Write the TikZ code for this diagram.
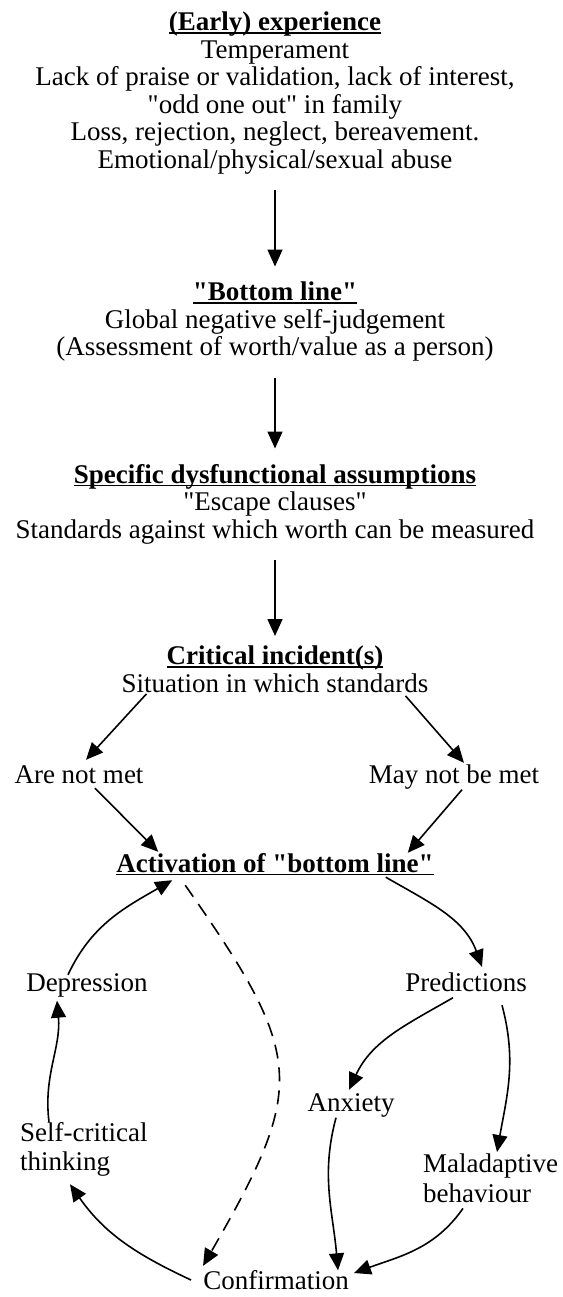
\documentclass[tikz,border=0pt]{standalone}
\usepackage{fontspec}
\setmainfont{Liberation Serif}[Ligatures=TeXOff]
\usetikzlibrary{arrows.meta,positioning}
\newsavebox{\headbox}
\newcommand{\headtxt}[1]{\sbox{\headbox}{\textbf{#1}}%
  \rlap{\rule[-2.6pt]{\wd\headbox}{1.3pt}}\usebox{\headbox}}

\begin{document}
\begin{tikzpicture}[x=1pt,y=1pt,
  txt/.style={inner sep=0pt,align=center,font=\fontsize{27}{27.5}\selectfont},
  one/.style={txt,text height=19pt,text depth=6pt},
  two/.style={txt,align=left,anchor=north west,font=\fontsize{27}{29.5}\selectfont},
  arr/.style={-{Triangle[length=17pt,width=15pt]},line width=1.6pt},
  down/.style={arr,shorten <=16pt,shorten >=15.5pt},
  back/.style={arr,dash pattern=on 14pt off 9pt}]
\useasboundingbox (0,0) rectangle (562,-1297);
%% ── Text blocks down the middle ─────────────────────────────────────────
\node[txt,anchor=north](early) at (275,-12)
  {\headtxt{(Early) experience}\\
   Temperament\\
   Lack of praise or validation, lack of interest,\\
   "odd one out" in family\\
   Loss, rejection, neglect, bereavement.\\
   Emotional/physical/sexual abuse};
\node[txt,anchor=north](bottom) at (275,-282)
  {\headtxt{"Bottom line"}\\
   Global negative self-judgement\\
   (Assessment of worth/value as a person)};
\node[txt,anchor=north](assume) at (275,-464)
  {\headtxt{Specific dysfunctional assumptions}\\
   "Escape clauses"\\
   Standards against which worth can be measured};
\node[txt,anchor=north](incident) at (275,-646)
  {\headtxt{Critical incident(s)}\\
   Situation in which standards};
%% ── Branch and cycle nodes ──────────────────────────────────────────────
\node[one](notmet) at (79,-777) {Are not met};
\node[one](maynot) at (454,-777) {May not be met};
\node[one](activ) at (275,-866) {\headtxt{Activation of "bottom line"}};
\node[one](depr) at (87,-985) {Depression};
\node[one](pred) at (466,-985) {Predictions};
\node[one](anx) at (351,-1105) {Anxiety};
\node[two](selfcrit) at (20,-1122) {Self-critical\\thinking};
\node[two](maladapt) at (423,-1154) {Maladaptive\\behaviour};
\node[one](confirm) at (276,-1283) {Confirmation};
%% ── Straight arrows ─────────────────────────────────────────────────────
\draw[down](early) -- (bottom);
\draw[down](bottom) -- (assume);
\draw[down,shorten >=10pt](assume) -- (incident);
\draw[arr]([xshift=25pt,yshift=-1pt]incident.south west)
  -- ([xshift=7pt,yshift=4.5pt]notmet.north);
\draw[arr]([xshift=-23pt,yshift=-3pt]incident.south east)
  -- ([xshift=10pt,yshift=1.5pt]maynot.north);
\draw[arr]([xshift=16pt,yshift=1.5pt]notmet.south)
  -- ([xshift=42pt,yshift=1.5pt]activ.north west);
\draw[arr]([xshift=8pt]maynot.south)
  -- ([xshift=-26pt,yshift=0.5pt]activ.north east);
%% ── Cycle (curved arrows) ───────────────────────────────────────────────
\draw[arr]([xshift=-19pt,yshift=-2.5pt]depr.north) to[out=65,in=210]
  ([xshift=56pt,yshift=-1.5pt]activ.south west);
\draw[back]([xshift=69pt,yshift=-6.5pt]activ.south west)
  to[out=-55,in=60,looseness=1.4] ([yshift=4.5pt]confirm.north west);
\draw[arr]([xshift=-48pt,yshift=1.5pt]activ.south east) to[out=-30,in=110]
  ([xshift=16pt,yshift=5.5pt]pred.north);
\draw[arr]([xshift=29pt]selfcrit.north west) to[out=97,in=-85]
  ([xshift=-30pt,yshift=-3pt]depr.south);
\draw[arr]([xshift=-13pt]pred.south) to[out=210,in=65]
  ([xshift=-2pt,yshift=2.5pt]anx.north);
\draw[arr]([xshift=36pt,yshift=-7.5pt]pred.south) to[out=-75,in=80]
  ([xshift=74pt,yshift=2pt]maladapt.north west);
\draw[arr]([xshift=-15pt]anx.south) to[out=-105,in=95]
  ([xshift=62pt]confirm.north);
\draw[arr]([xshift=40pt,yshift=-5.5pt]maladapt.south west) to[out=-125,in=20]
  ([xshift=5pt,yshift=10pt]confirm.east);
\draw[arr]([xshift=-12pt,yshift=3pt]confirm.west) to[out=155,in=-55]
  ([xshift=50pt,yshift=-7.5pt]selfcrit.south west);
\end{tikzpicture}
\end{document}
